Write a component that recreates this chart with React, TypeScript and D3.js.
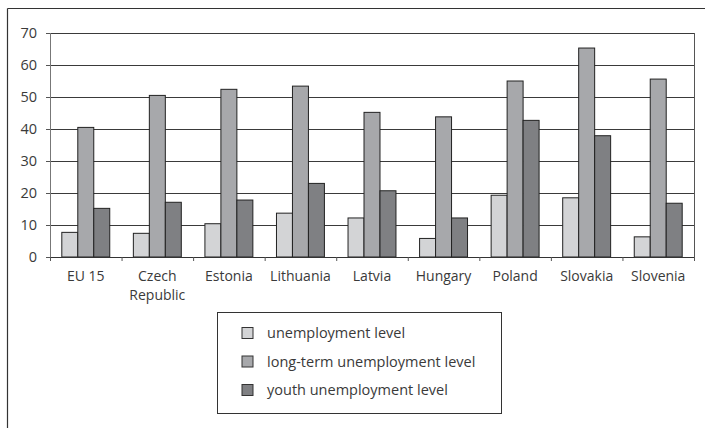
import { scaleBand, scaleLinear, scaleOrdinal } from 'd3';

const countries = ['EU 15', 'Czech Republic', 'Estonia', 'Lithuania', 'Latvia', 'Hungary', 'Poland', 'Slovakia', 'Slovenia'];
const countryLines = [['EU 15'], ['Czech', 'Republic'], ['Estonia'], ['Lithuania'], ['Latvia'], ['Hungary'], ['Poland'], ['Slovakia'], ['Slovenia']];
const seriesNames = ['unemployment level', 'long-term unemployment level', 'youth unemployment level'];
const unemployment = [7.7, 7.4, 10.4, 13.7, 12.2, 5.8, 19.3, 18.5, 6.3];
const longTerm = [40.5, 50.5, 52.4, 53.4, 45.2, 43.8, 55.0, 65.3, 55.6];
const youth = [15.2, 17.1, 17.8, 23.0, 20.7, 12.2, 42.7, 37.9, 16.8];
const yTicks = [0, 10, 20, 30, 40, 50, 60, 70];

const width = 705;
const height = 428;
const margin = { top: 33, right: 11, bottom: 171, left: 50 };
const font = '"Open Sans", "Noto Sans", sans-serif';

export default function App() {
  const values = [unemployment, longTerm, youth];

  const x0 = scaleBand<string>()
    .domain(countries)
    .range([margin.left, width - margin.right])
    .padding(0);
  const step = x0.step();
  const groupPad = step * 0.165;
  const x1 = scaleBand<string>()
    .domain(seriesNames)
    .range([groupPad, step - groupPad])
    .padding(0);
  const y = scaleLinear()
    .domain([0, 70])
    .range([height - margin.bottom, margin.top]);
  const color = scaleOrdinal<string, string>()
    .domain(seriesNames)
    .range(['#d3d4d6', '#a7a8ab', '#7f8083']);

  const y0 = y(0);
  const xLeft = margin.left;
  const xRight = width - margin.right;

  return (
    <svg
      width={width}
      height={height}
      style={{ position: 'absolute', left: 0, top: 0, background: '#fff' }}
      fontFamily={font}>
      {/* outer frame, open on the right and bottom */}
      <line x1={7.5} x2={width} y1={8.5} y2={8.5} stroke='#333' strokeWidth={1.2} />
      <line x1={7.5} x2={7.5} y1={8.5} y2={height} stroke='#333' strokeWidth={1.2} />

      {/* gridlines */}
      <g>
        {yTicks.filter((t) => t > 0).map((t) => (
          <line key={t} x1={xLeft} x2={xRight} y1={Math.round(y(t)) + 0.5} y2={Math.round(y(t)) + 0.5} stroke='#3a3a3a' strokeWidth={1} />
        ))}
        <line x1={xRight + 0.5} x2={xRight + 0.5} y1={y(70)} y2={y0} stroke='#555' strokeWidth={1} />
      </g>

      {/* bars */}
      <g>
        {countries.map((c, i) => (
          <g key={c} transform={`translate(${x0(c)},0)`}>
            {seriesNames.map((s, j) => (
              <rect
                key={s}
                x={x1(s)}
                y={y(values[j][i])}
                width={x1.bandwidth()}
                height={y0 - y(values[j][i])}
                fill={color(s)}
                stroke='#222'
                strokeWidth={1}
              />
            ))}
          </g>
        ))}
      </g>

      {/* y axis */}
      <g>
        <line x1={xLeft + 0.5} x2={xLeft + 0.5} y1={y(70)} y2={y0} stroke='#777' strokeWidth={1} />
        {yTicks.map((t) => (
          <g key={t}>
            <line x1={xLeft - 4} x2={xLeft} y1={Math.round(y(t)) + 0.5} y2={Math.round(y(t)) + 0.5} stroke='#555' />
            <text x={xLeft - 13} y={y(t)} dy='0.35em' textAnchor='end' fontSize={14.5} fill='#3a3a3a'>
              {t}
            </text>
          </g>
        ))}
      </g>

      {/* x axis */}
      <g>
        <line x1={xLeft} x2={xRight + 1} y1={Math.round(y0) + 0.5} y2={Math.round(y0) + 0.5} stroke='#333' strokeWidth={1} />
        {countries.map((c) => (
          <line key={c} x1={x0(c)! + 0.5} x2={x0(c)! + 0.5} y1={y0} y2={y0 + 4} stroke='#555' />
        ))}
        <line x1={xRight + 0.5} x2={xRight + 0.5} y1={y0} y2={y0 + 4} stroke='#555' />
        {countries.map((c, i) =>
          countryLines[i].map((w, k) => (
            <text
              key={c + w}
              x={x0(c)! + step / 2}
              y={countryLines[i].length > 1 ? y0 + 23.5 + k * 19 : y0 + 24}
              textAnchor='middle'
              fontSize={14}
              fill='#3a3a3a'>
              {w}
            </text>
          )),
        )}
      </g>

      {/* legend */}
      <g transform='translate(217,312)'>
        <rect x={0.5} y={0.5} width={284} height={101} fill='#fff' stroke='#333' strokeWidth={1} />
        {seriesNames.map((s, j) => (
          <g key={s} transform={`translate(25,${21 + j * 28.5})`}>
            <rect x={0} y={-5.5} width={11} height={11} fill={color(s)} stroke='#333' strokeWidth={1} />
            <text x={25} y={0} dy='0.35em' fontSize={14.5} fill='#3a3a3a'>
              {s}
            </text>
          </g>
        ))}
      </g>
    </svg>
  );
}
